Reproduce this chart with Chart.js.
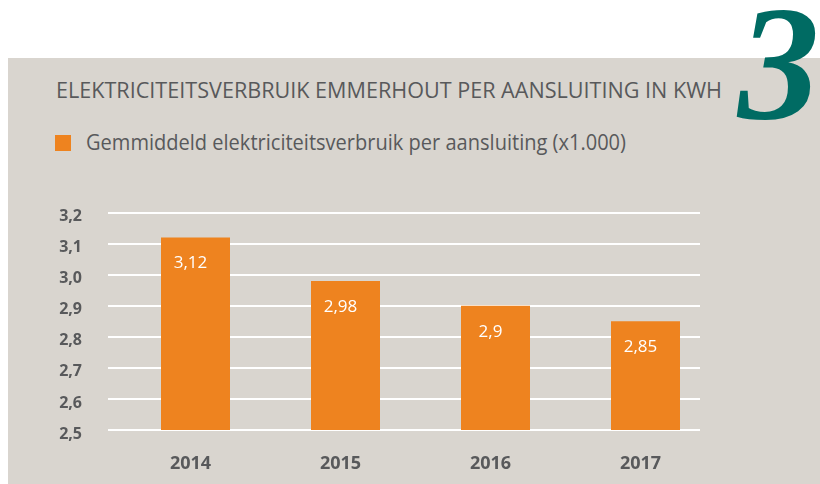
<!DOCTYPE html>
<html>
<head>
<meta charset="utf-8">
<script src="https://cdn.jsdelivr.net/npm/chart.js@4"></script>
<style>
  body { margin: 0; width: 820px; height: 484px; background: #fff; position: relative; overflow: hidden; font-family: "Open Sans", sans-serif; }
  .panel { position: absolute; left: 8px; top: 58px; right: 0; bottom: 0; background: #d9d5cf; }
  .title { position: absolute; left: 56px; top: 74px; font-size: 22px; line-height: normal; color: #58595b; white-space: nowrap; transform-origin: left top; }
  .legend { position: absolute; left: 55px; top: 128px; font-size: 21px; line-height: normal; color: #58595b; white-space: nowrap; }
  .legend .box { position: absolute; left: 0; top: 7px; width: 16px; height: 16px; background: #ee831f; }
  .legend .txt { position: absolute; left: 31px; top: 0; transform-origin: left top; }
  .bignum { position: absolute; left: 738px; top: -18px; font-family: "Liberation Serif", serif; font-style: italic; font-weight: bold; font-size: 163px; color: #006b63; line-height: 1; }
  canvas { position: absolute; left: 0; top: 0; }
</style>
</head>
<body>
<div class="panel"></div>
<div class="bignum">3</div>
<div class="title" id="title"></div>
<div class="legend"><div class="box"></div><div class="txt" id="legendTxt"></div></div>
<canvas id="chart" width="820" height="484"></canvas>

<script>
const chartTitle = "ELEKTRICITEITSVERBRUIK EMMERHOUT PER AANSLUITING IN KWH";
const seriesLabel = "Gemmiddeld elektriciteitsverbruik per aansluiting (x1.000)";
const years = ["2014", "2015", "2016", "2017"];
const usage = [3.12, 2.98, 2.9, 2.85];
const yTicks = [2.5, 2.6, 2.7, 2.8, 2.9, 3.0, 3.1, 3.2];

const ORANGE = "#ee831f";
const GREY = "#58595b";

document.getElementById("title").textContent = chartTitle;
document.getElementById("legendTxt").textContent = seriesLabel;

// squeeze the text to the width it has in the reference
function fitWidth(el, w) {
  const real = el.getBoundingClientRect().width;
  el.style.transform = `scaleX(${w / real})`;
}
fitWidth(document.getElementById("title"), 666);
fitWidth(document.getElementById("legendTxt"), 540);

const comma = v => Number(v).toFixed(1).replace(".", ",");

// white grid lines, running a bit wider on the left than the bars
const gridLines = {
  id: "gridLines",
  beforeDatasetsDraw(chart) {
    const { ctx, scales: { y } } = chart;
    ctx.save();
    ctx.strokeStyle = "#ffffff";
    ctx.lineWidth = 2;
    yTicks.forEach(t => {
      const py = Math.round(y.getPixelForValue(t));
      ctx.beginPath();
      ctx.moveTo(108, py);
      ctx.lineTo(700, py);
      ctx.stroke();
    });
    ctx.restore();
  }
};

// value inside the top of each bar
const barValues = {
  id: "barValues",
  afterDatasetsDraw(chart) {
    const { ctx } = chart;
    const meta = chart.getDatasetMeta(0);
    ctx.save();
    ctx.fillStyle = "#ffffff";
    ctx.font = "17px 'Open Sans'";
    ctx.textAlign = "center";
    ctx.textBaseline = "middle";
    meta.data.forEach((bar, i) => {
      const txt = String(usage[i]).replace(".", ",");
      ctx.fillText(txt, bar.x - 5, bar.y + 26);
    });
    ctx.restore();
  }
};

new Chart(document.getElementById("chart"), {
  type: "bar",
  data: {
    labels: years,
    datasets: [{
      label: seriesLabel,
      data: usage,
      backgroundColor: ORANGE,
      borderWidth: 0,
      barPercentage: 1,
      categoryPercentage: 0.46
    }]
  },
  options: {
    responsive: false,
    animation: false,
    layout: { padding: { left: 40, right: 99.5, top: 212.7, bottom: 0 } },
    plugins: {
      legend: { display: false },
      tooltip: { enabled: false }
    },
    scales: {
      x: {
        grid: { display: false, drawTicks: false },
        border: { display: false },
        ticks: {
          color: GREY,
          font: { family: "Open Sans", size: 18, weight: "bold" },
          padding: 23,
          labelOffset: -5
        },
        afterFit(scale) { scale.height = 54; }
      },
      y: {
        min: 2.5,
        max: 3.2,
        grid: { display: false, drawTicks: false },
        border: { display: false },
        afterBuildTicks(scale) { scale.ticks = yTicks.map(v => ({ value: v })); },
        ticks: {
          color: GREY,
          font: { family: "Open Sans", size: 16, weight: "bold" },
          padding: 38.5,
          labelOffset: 4,
          callback: v => comma(v)
        },
        afterFit(scale) { scale.width = 80.5; }
      }
    }
  },
  plugins: [gridLines, barValues]
});
</script>
</body>
</html>
